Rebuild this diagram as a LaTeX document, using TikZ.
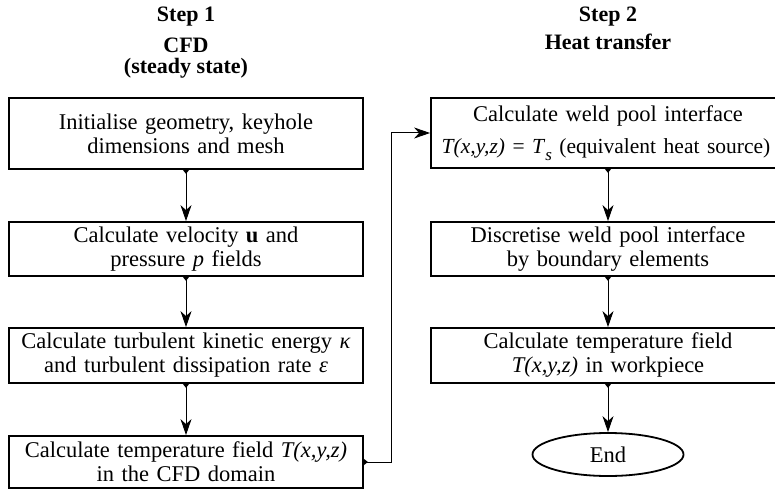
\documentclass[tikz,border=0pt]{standalone}
\usepackage{fontspec}
\setmainfont{Liberation Serif}
\usetikzlibrary{arrows.meta,shapes.geometric}
\begin{document}
\begin{tikzpicture}[x=1pt,y=-1pt,
  every node/.style={font=\fontsize{22.5}{24}\selectfont},
  procbox/.style={draw,line width=1.8pt,rectangle,minimum width=354pt,text width=350pt,align=center,inner sep=0pt},
  titlebox/.style={font=\fontsize{22}{24}\selectfont\bfseries,inner sep=0pt},
  endbox/.style={draw,line width=1.8pt,ellipse,minimum width=151pt,minimum height=43pt,inner sep=0pt},
  arr/.style={line width=1pt,arrows={Triangle[reversed,length=4pt,width=6pt]-Stealth[length=16pt,width=11pt,inset=5pt]}}]
\useasboundingbox (0,0) rectangle (775,489);
% titles
\node[titlebox] (s1) at (186,17) {Step 1};
\node[titlebox] (cfd) at (186,45) {CFD};
\node[titlebox] (ss) at (186,68) {(steady state)};
\node[titlebox] (s2) at (608,17) {Step 2};
\node[titlebox] (ht) at (608,42) {Heat transfer};
% left column
\node[procbox,minimum height=71pt] (b1) at (186,133.5) {Initialise geometry, keyhole\\dimensions and mesh};
\node[procbox,minimum height=54pt] (b2) at (186,249) {Calculate velocity \textbf{u} and\\pressure \textit{p} fields};
\node[procbox,minimum height=55pt] (b3) at (186,355.5) {Calculate turbulent kinetic energy \textit{κ}\\and turbulent dissipation rate \textit{ε}};
\node[procbox,minimum height=52pt] (b4) at (186,462) {Calculate temperature field \textit{T(x,y,z)}\\in the CFD domain};
% right column
\node[procbox,minimum height=70pt] (a1) at (608,133) {Calculate weld pool interface\\[8pt]\hspace*{-4pt}{\fontsize{21.5}{24}\selectfont\textit{T(x,y,z)} = \textit{T}\raisebox{-0.3em}{\fontsize{17}{17}\selectfont\textit{s}} (equivalent heat source)}};
\node[procbox,minimum height=54pt] (a2) at (608,249) {Discretise weld pool interface\\by boundary elements};
\node[procbox,minimum height=55pt] (a3) at (608,355.5) {Calculate temperature field\\\textit{T(x,y,z)} in workpiece};
\node[endbox] (e) at (608,454.5) {End};
% connectors
\draw[arr] (b1.south) -- (b2.north);
\draw[arr] (b2.south) -- (b3.north);
\draw[arr] (b3.south) -- (b4.north);
\draw[arr] (a1.south) -- (a2.north);
\draw[arr] (a2.south) -- (a3.north);
\draw[arr] (a3.south) -- (e.north);
\coordinate (k) at (391,300);
\draw[arr] (b4.east) -| (k |- a1.west) -- (a1.west);
\end{tikzpicture}
\end{document}
